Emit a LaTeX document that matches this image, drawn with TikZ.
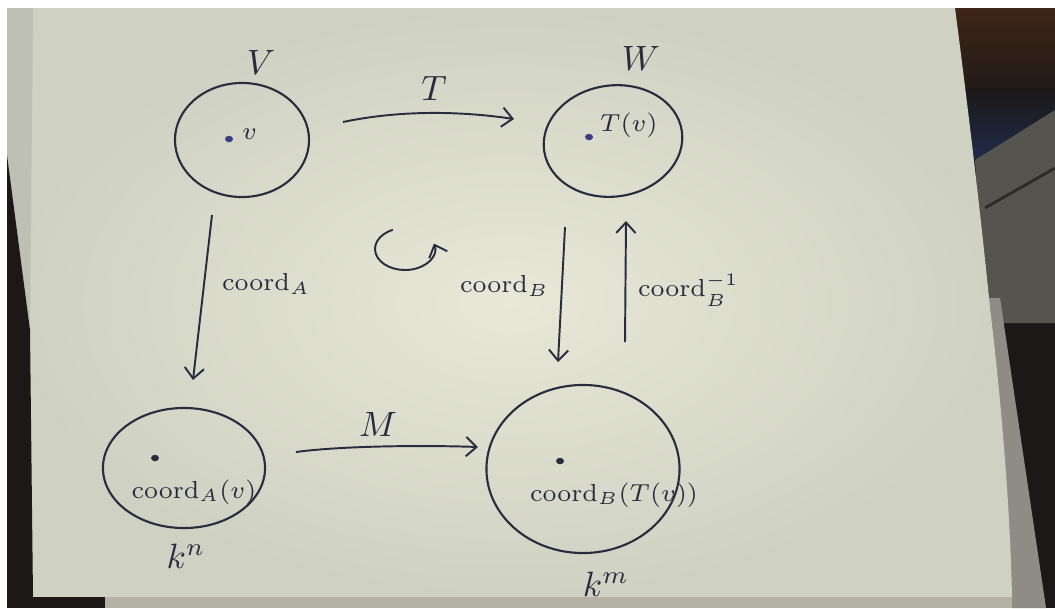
\documentclass[tikz,border=0pt]{standalone}
\usetikzlibrary{shapes.geometric,arrows.meta}

\definecolor{ink}{HTML}{2A2B3E}
\definecolor{inkblue}{HTML}{3A3E86}
\definecolor{paperhi}{HTML}{E7E8D6}
\definecolor{paperlo}{HTML}{CFD1C3}
\definecolor{darkbg}{HTML}{1B1817}
\definecolor{brownbg}{HTML}{3E2517}
\definecolor{bluebg}{HTML}{1F2B47}
\definecolor{fabric}{HTML}{56544F}
\definecolor{stack}{HTML}{8E8C84}
\definecolor{edgestrip}{HTML}{B4B2A5}

\begin{document}
\begin{tikzpicture}[x=0.01cm,y=0.01cm,
  blob/.style={draw=ink, line width=0.6pt, ellipse, inner sep=0pt},
  map/.style={draw=ink, line width=0.55pt, -{Straight Barb[length=3pt,width=5.5pt]}},
  pt/.style={ellipse, fill=ink, inner sep=0pt, minimum width=0.8mm, minimum height=0.65mm},
  lbl/.style={text=ink, inner sep=1pt, font=\fontsize{7.5}{9}\selectfont},
  big/.style={text=ink, inner sep=1pt, font=\fontsize{10}{12}\selectfont}]
\useasboundingbox (0,0) rectangle (1055,608);

% backdrop behind the notebook
\fill[white] (0,0) rectangle (1055,608);
\fill[darkbg] (7,0) rectangle (1055,600);
\shade[top color=brownbg, bottom color=darkbg] (940,500) rectangle (1055,600);
\shade[top color=darkbg, bottom color=bluebg] (940,450) rectangle (1055,520);
\fill[fabric] (975,448) -- (1055,498) -- (1055,285) -- (985,285) -- cycle;
\draw[darkbg!70!fabric, line width=0.8pt] (985,400) -- (1055,440);
\fill[stack] (988,310) -- (1012,0) -- (1046,0) -- (1000,310) -- cycle;

% the page
\shade[inner color=paperhi, outer color=paperlo]
  (7,600) -- (955,600) .. controls (968,500) and (980,400) .. (990,300)
  .. controls (1002,200) and (1010,100) .. (1012,11) -- (7,11) -- cycle;
\fill[paperlo!92!black] (7,600) -- (33,600) -- (30,278) -- (7,453) -- cycle;
\fill[darkbg] (7,453) -- (30,278) -- (33,11) -- (7,11) -- cycle;
\fill[edgestrip] (105,0) rectangle (1012,11);
\fill[darkbg] (7,0) rectangle (105,11);

% the four spaces
\node[blob, minimum width=13.4mm, minimum height=11.4mm] (V)  at (242,468) {};
\node[blob, minimum width=13.9mm, minimum height=11.1mm, rotate=8] (W)  at (613,467) {};
\node[blob, minimum width=16.2mm, minimum height=12.0mm] (Kn) at (184,140) {};
\node[blob, minimum width=19.3mm, minimum height=16.8mm] (Km) at (583,139) {};

\node[big] (Vname)  at (261,546) {$V$};
\node[big] (Wname)  at (641,550) {$W$};
\node[big] (Knname) at (186,52)  {$k^n$};
\node[big] (Kmname) at (606,24)  {$k^m$};

% points and their images
\node[pt, fill=inkblue] (v)   at (229,469) {};
\node[lbl, anchor=west] (vlab) at (238,474) {$v$};
\node[pt, fill=inkblue] (Tv)  at (589,471) {};
\node[lbl, anchor=west] (Tvlab) at (596,483) {$T(v)$};
\node[pt] (cv)  at (155,150) {};
\node[lbl] (cvlab) at (194,116) {$\mathrm{coord}_A(v)$};
\node[pt] (cTv) at (560,147) {};
\node[lbl] (cTvlab) at (614,113) {$\mathrm{coord}_B(T(v))$};

% maps between the spaces
\coordinate (Ta) at (343,486);
\coordinate (Tb) at (514,489);
\draw[map] (Ta) .. controls (400,498) and (460,497) .. (Tb);
\node[big] (Tlab) at (434,520) {$T$};

\coordinate (Aa) at (212,393);
\coordinate (Ab) at (193,228);
\draw[map] (Aa) -- (Ab);
\node[lbl, anchor=west] (Alab) at (218,324) {$\mathrm{coord}_A$};

\coordinate (Ba) at (565,381);
\coordinate (Bb) at (558,246);
\draw[map] (Ba) -- (Bb);
\node[lbl, anchor=east] (Blab) at (553,322) {$\mathrm{coord}_B$};

\coordinate (Ia) at (625,266);
\coordinate (Ib) at (626,387);
\draw[map] (Ia) -- (Ib);
\node[lbl, anchor=west] (Ilab) at (634,318) {$\mathrm{coord}^{-1}_B$};

\coordinate (Ma) at (296,156);
\coordinate (Mb) at (478,161);
\draw[map] (Ma) .. controls (340,162) and (420,163) .. (Mb);
\node[big] (Mlab) at (378,184) {$M$};

% the square commutes
\coordinate (rot) at (405,359);
\draw[map] (rot) ++(114:30 and 21) arc[start angle=114, end angle=375, x radius=30, y radius=21];
\end{tikzpicture}
\end{document}
